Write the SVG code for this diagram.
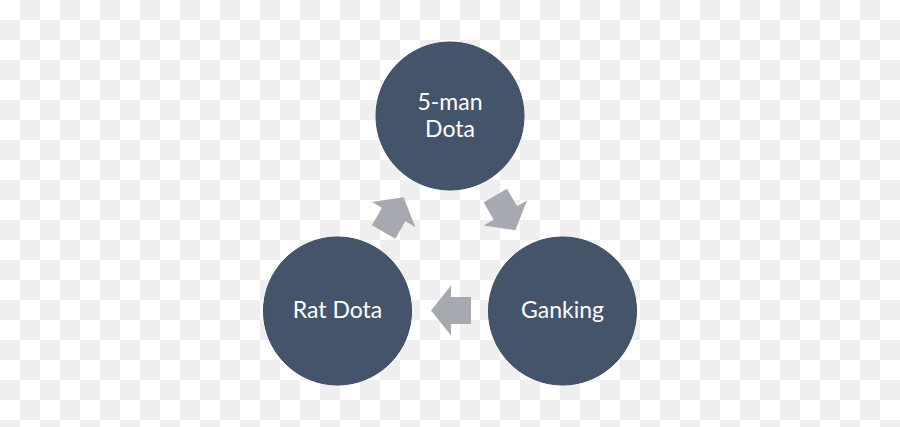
<svg xmlns="http://www.w3.org/2000/svg" width="900" height="427" viewBox="0 0 900 427">
<defs>
<pattern id="checker" x="0" y="0" width="40" height="40" patternUnits="userSpaceOnUse">
<rect width="40" height="40" fill="#ffffff"/>
<rect x="20" y="0" width="20" height="20" fill="#efefef"/>
<rect x="0" y="20" width="20" height="20" fill="#efefef"/>
</pattern>
<path id="arrowShape" d="M431,310.5 L451,285.5 L451,297 L471,297 L471,324 L451,324 L451,335.5 Z"/>
</defs>
<style>
.node{fill:#44546a;stroke:#3b4a5e;stroke-width:1}
.lbl{fill:#ffffff;font-family:Lato,"Open Sans","Liberation Sans",sans-serif;font-size:23px;text-anchor:middle}
.arr{fill:#a6a9b0}
</style>
<rect width="900" height="427" fill="url(#checker)"/>
<g id="connectors">
<use href="#arrowShape" class="arr"/>
<use href="#arrowShape" class="arr" transform="rotate(120 450 246)"/>
<use href="#arrowShape" class="arr" transform="rotate(-120 450 246)"/>
</g>
<g id="node-5man">
<circle class="node" cx="450" cy="116" r="74"/>
<text class="lbl" x="450" y="110">5-man</text>
<text class="lbl" x="450" y="137">Dota</text>
</g>
<g id="node-ratdota">
<circle class="node" cx="337.5" cy="311" r="74"/>
<text class="lbl" x="337.5" y="318">Rat Dota</text>
</g>
<g id="node-ganking">
<circle class="node" cx="562.5" cy="311" r="74"/>
<text class="lbl" x="562.5" y="318">Ganking</text>
</g>
</svg>
